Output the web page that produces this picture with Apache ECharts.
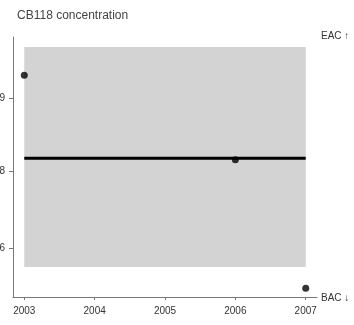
<!DOCTYPE html>
<html>
<head>
<meta charset="utf-8">
<script src="https://cdn.jsdelivr.net/npm/echarts@6/dist/echarts.min.js"></script>
<style>html,body{margin:0;padding:0;background:#fff}#c{width:354px;height:325px}</style>
</head>
<body>
<div id="c"></div>
<script>
var titleText = 'CB118 concentration';
var years = [2003, 2006, 2007];
var concentrations = [10.49, 8.29, 4.96];
var trendYears = [2003, 2007];
var trendValues = [8.33, 8.33];
var bandYears = [2003, 2007];
var bandLow = 5.51;
var bandHigh = 11.22;
var xTicks = [2003, 2004, 2005, 2006, 2007];
var yTicks = [6, 8, 9.9];
var upperLabel = 'EAC \u2191';
var lowerLabel = 'BAC \u2193';

var font = 'Liberation Sans, Arial, sans-serif';
var chart = echarts.init(document.getElementById('c'), null, {renderer: 'canvas'});
chart.setOption({
  animation: false,
  backgroundColor: '#fff',
  title: {text: titleText, left: 12, top: 5,
    textStyle: {fontSize: 12, fontWeight: 'normal', color: '#444', fontFamily: font}},
  grid: {left: 13, right: 37, top: 37, bottom: 28, containLabel: false, outerBoundsMode: 'none'},
  xAxis: {
    type: 'value', min: 2002.84, max: 2007.16,
    splitLine: {show: false},
    axisLine: {lineStyle: {color: '#777', width: 1}},
    axisTick: {customValues: xTicks, length: 3, lineStyle: {color: '#777'}},
    axisLabel: {customValues: xTicks, margin: 9, fontSize: 10, color: '#333', fontFamily: font,
      formatter: function (v) { return String(v); }}
  },
  yAxis: {
    type: 'value', min: 4.73, max: 11.48,
    splitLine: {show: false},
    axisLine: {show: true, lineStyle: {color: '#777', width: 1}},
    axisTick: {customValues: yTicks, length: 4, lineStyle: {color: '#777'}},
    axisLabel: {customValues: yTicks, margin: 8, fontSize: 10, color: '#333', fontFamily: font}
  },
  graphic: [
    {type: 'text', left: 321, top: 31, style: {text: upperLabel, fontSize: 10, fill: '#333', fontFamily: font}},
    {type: 'text', left: 321, top: 293, style: {text: lowerLabel, fontSize: 10, fill: '#333', fontFamily: font}}
  ],
  series: [
    {
      type: 'line', z: 3, symbol: 'none',
      data: trendYears.map(function (y, i) { return [y, trendValues[i]]; }),
      lineStyle: {color: '#000', width: 3},
      markArea: {silent: true, z: 1,
        itemStyle: {color: '#d3d3d3', opacity: 1},
        data: [[{coord: [bandYears[0], bandLow]}, {coord: [bandYears[1], bandHigh]}]]}
    },
    {
      type: 'scatter', z: 4, symbol: 'circle', symbolSize: 7,
      itemStyle: {color: '#000'},
      data: years.map(function (y, i) { return [y, concentrations[i]]; })
    }
  ]
});
</script>
</body>
</html>
